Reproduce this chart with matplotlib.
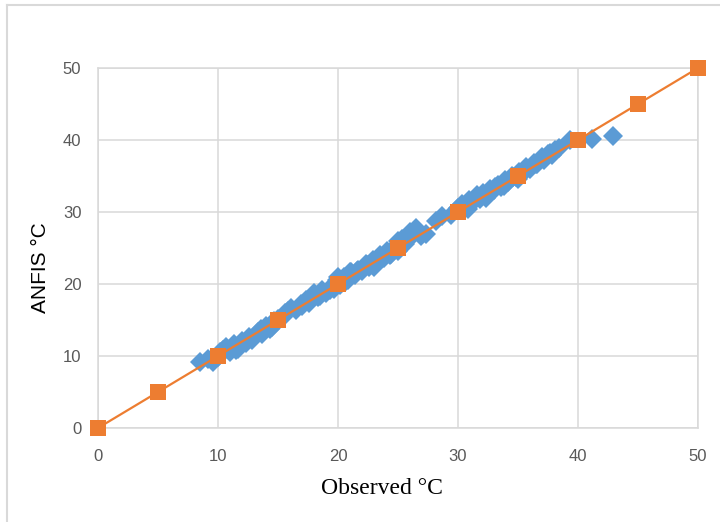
import matplotlib
matplotlib.use("Agg")
import matplotlib.pyplot as plt
from matplotlib.lines import Line2D

# Observed vs ANFIS (blue diamonds)
observed = [8.5, 9.2, 9.6, 10.0, 10.4, 10.7, 11.0, 11.3, 11.7, 12.0, 12.3, 12.6,
            13.0, 13.3, 13.7, 14.0, 14.3, 14.7, 15.0, 15.4, 15.8, 16.1, 16.5, 16.9,
            17.3, 17.6, 18.0, 18.3, 18.7, 19.0, 19.3, 19.6, 19.9, 20.2, 20.5, 20.8,
            21.1, 21.4, 21.7, 22.0, 22.3, 22.6, 22.9, 23.2, 23.5, 23.8, 24.1, 24.4,
            24.7, 25.0, 25.3, 25.6, 25.9, 26.2, 26.5, 26.9, 27.3, 28.2, 28.7, 29.4,
            30.0, 30.3, 30.6, 30.9, 31.2, 31.5, 31.8, 32.1, 32.4, 32.7, 33.0, 33.3,
            33.6, 33.9, 34.2, 34.5, 34.8, 35.1, 35.4, 35.7, 36.0, 36.3, 36.6, 36.9,
            37.2, 37.5, 37.8, 38.1, 38.4, 39.3, 41.2, 42.9,
            10.2, 11.5, 12.8, 13.6, 14.5, 15.6, 17.0, 18.5, 19.7, 20.6, 21.6, 22.4,
            23.4, 24.3, 25.2, 26.0, 30.8, 31.6, 32.3, 33.1, 33.8, 34.6, 35.5, 36.2,
            37.0, 37.7, 20.0, 21.0, 23.0, 25.0, 35.0, 36.5]
anfis = [9.1, 9.6, 9.2, 9.8, 10.9, 11.3, 10.6, 11.6, 11.0, 12.1, 11.8, 12.6,
         12.6, 13.3, 13.0, 14.1, 13.8, 14.9, 15.1, 15.4, 16.2, 16.6, 16.4, 17.2,
         17.8, 17.4, 18.7, 18.2, 19.1, 18.7, 19.2, 19.9, 20.5, 19.8, 21.0, 20.6,
         21.6, 21.2, 22.0, 21.8, 22.8, 22.4, 23.3, 23.0, 24.0, 23.6, 24.6, 24.2,
         25.0, 24.6, 26.2, 25.6, 26.2, 27.0, 27.8, 26.6, 26.9, 28.8, 29.4, 29.6,
         30.6, 31.1, 30.7, 31.6, 31.3, 32.1, 31.8, 32.6, 32.4, 33.2, 33.0, 33.8,
         33.5, 34.4, 34.2, 35.0, 34.8, 35.6, 35.4, 36.2, 36.0, 36.8, 36.6, 37.4,
         37.2, 38.0, 37.9, 38.6, 38.9, 40.0, 40.1, 40.6,
         10.6, 10.9, 12.2, 13.8, 14.0, 16.0, 16.9, 18.4, 19.3, 20.3, 21.8, 22.6,
         23.8, 24.0, 25.6, 27.2, 30.4, 32.4, 32.0, 33.5, 33.6, 34.8, 35.8, 36.4,
         37.6, 38.2, 21.0, 21.6, 22.4, 26.0, 34.6, 36.6]

# Reference 1:1 line (orange squares)
ref_x = [0, 5, 10, 15, 20, 25, 30, 35, 40, 45, 50]
ref_y = [0, 5, 10, 15, 20, 25, 30, 35, 40, 45, 50]

x_ticks = [0, 10, 20, 30, 40, 50]
y_ticks = [0, 10, 20, 30, 40, 50]

BLUE = "#5B9BD5"
ORANGE = "#ED7D31"
GRID = "#D9D9D9"
TICKC = "#595959"

fig = plt.figure(figsize=(7.2, 5.22), dpi=100)
ax = fig.add_axes([98/720, 1 - 428/522, 600/720, 360/522])

ax.plot(observed, anfis, linestyle="none", marker="D", markersize=10.5,
        color=BLUE, markeredgewidth=0, zorder=3, clip_on=False)
ax.plot(ref_x, ref_y, color=ORANGE, linewidth=1.6, marker="s", markersize=11,
        markeredgewidth=0, zorder=4, clip_on=False)

ax.set_xlim(0, 50)
ax.set_ylim(0, 50)
ax.set_xticks(x_ticks)
ax.set_yticks(y_ticks)
ax.grid(True, color=GRID, linewidth=1.1, zorder=0)
ax.set_axisbelow(True)
for s in ax.spines.values():
    s.set_color(GRID)
    s.set_linewidth(1.1)
ax.tick_params(length=0, colors=TICKC, labelsize=12)
ax.tick_params(axis="x", pad=15)
ax.tick_params(axis="y", pad=12)
for lab in ax.get_xticklabels() + ax.get_yticklabels():
    lab.set_family(["Liberation Sans Narrow", "Liberation Sans", "DejaVu Sans"])

ax.set_xlabel("Observed °C", family=["Liberation Serif", "DejaVu Serif"],
              fontsize=17, color="black")
ax.xaxis.set_label_coords((382 - 98) / 600, (428 - 478) / 360)
ax.set_ylabel("ANFIS °C", family=["Liberation Sans", "DejaVu Sans"],
              fontsize=15, color="black")
ax.yaxis.set_label_coords((50 - 98) / 600, (428 - 268) / 360)

# outer chart border (left and top visible)
fig.add_artist(Line2D([7/720, 7/720], [0, 1 - 5/522], color="#D9D9D9",
                      linewidth=1.5, transform=fig.transFigure))
fig.add_artist(Line2D([7/720, 1], [1 - 5/522, 1 - 5/522], color="#D9D9D9",
                      linewidth=1.5, transform=fig.transFigure))

fig.savefig("out.png", dpi=100)
